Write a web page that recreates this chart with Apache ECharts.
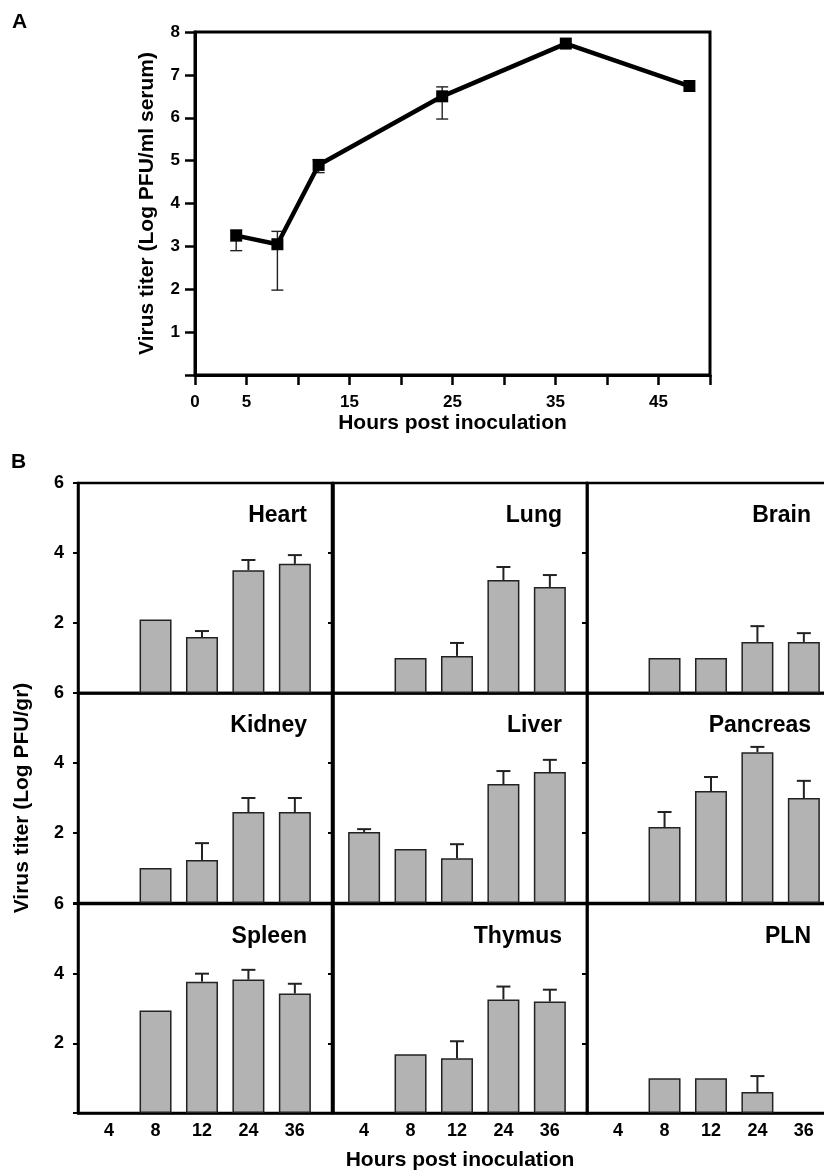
<!DOCTYPE html>
<html>
<head>
<meta charset="utf-8">
<script src="https://cdn.jsdelivr.net/npm/echarts@6/dist/echarts.min.js"></script>
<style>
  html, body { margin: 0; padding: 0; background: #fff; }
  #chart { width: 824px; height: 1170px; }
</style>
</head>
<body>
<div id="chart"></div>
<script>
// panel A: serum titer
const hoursA = [4, 8, 12, 24, 36, 48];
const titerA = [3.25, 3.05, 4.9, 6.5, 7.73, 6.74];
const lowA = [2.9, 1.98, 4.72, 5.97, null, null];
const highA = [3.38, 3.35, 5.02, 6.72, null, null];
const xLabelsA = [0, 5, 15, 25, 35, 45];

// panel B: organ titers (mean and upper error)
const hoursB = ['4', '8', '12', '24', '36'];
const organs = ['Heart', 'Lung', 'Brain', 'Kidney', 'Liver', 'Pancreas', 'Spleen', 'Thymus', 'PLN'];
const heart = [null, 2.1, 1.6, 3.51, 3.69];
const heartErr = [null, null, 1.77, 3.8, 3.94];
const lung = [null, 1.0, 1.06, 3.23, 3.03];
const lungErr = [null, null, 1.43, 3.6, 3.37];
const brain = [null, 1.0, 1.0, 1.46, 1.46];
const brainErr = [null, null, null, 1.91, 1.71];
const kidney = [null, 1.0, 1.23, 2.6, 2.6];
const kidneyErr = [null, null, 1.71, 3.0, 3.0];
const liver = [2.03, 1.54, 1.28, 3.4, 3.74];
const liverErr = [2.11, null, 1.68, 3.77, 4.09];
const pancreas = [null, 2.17, 3.2, 4.31, 3.0];
const pancreasErr = [null, 2.6, 3.6, 4.46, 3.49];
const spleen = [null, 2.94, 3.77, 3.83, 3.43];
const spleenErr = [null, null, 4.0, 4.11, 3.71];
const thymus = [null, 1.69, 1.57, 3.26, 3.2];
const thymusErr = [null, null, 2.06, 3.63, 3.54];
const pln = [null, 1.0, 1.0, 0.6, null];
const plnErr = [null, null, null, 1.06, null];

const organMeans = [heart, lung, brain, kidney, liver, pancreas, spleen, thymus, pln];
const organErrs = [heartErr, lungErr, brainErr, kidneyErr, liverErr, pancreasErr, spleenErr, thymusErr, plnErr];

const font = 'Liberation Sans, Arial, sans-serif';
const colLeft = [78, 333, 587];
const rowTop = [483, 693, 904];
const cellW = 254, cellH = 210;

const chart = echarts.init(document.getElementById('chart'));

const grids = [{ left: 195, top: 32, width: 515, height: 343, outerBoundsMode: 'none',
  show: true, borderColor: '#000', borderWidth: 3 }];
const xAxes = [{
  gridIndex: 0, type: 'value', min: 0, max: 50, interval: 5,
  name: 'Hours post inoculation', nameLocation: 'middle', nameGap: 38,
  nameTextStyle: { fontFamily: font, fontWeight: 'bold', fontSize: 21, color: '#000' },
  axisLine: { lineStyle: { color: '#000', width: 3 } },
  axisTick: { inside: false, length: 10, lineStyle: { color: '#000', width: 2.5 } },
  axisLabel: { margin: 19, fontFamily: font, fontWeight: 'bold', fontSize: 17, color: '#000',
    formatter: v => xLabelsA.includes(v) ? String(v) : '' },
  splitLine: { show: false }
}];
const yAxes = [{
  gridIndex: 0, type: 'value', min: 0, max: 8, interval: 1,
  name: 'Virus titer (Log PFU/ml serum)', nameLocation: 'middle', nameGap: 37,
  nameTextStyle: { fontFamily: font, fontWeight: 'bold', fontSize: 21, color: '#000' },
  axisLine: { lineStyle: { color: '#000', width: 3 } },
  axisTick: { length: 10, lineStyle: { color: '#000', width: 2.5 } },
  axisLabel: { margin: 15, fontFamily: font, fontWeight: 'bold', fontSize: 17, color: '#000',
    formatter: v => v === 0 ? '' : String(v) },
  splitLine: { show: false }
}];

const series = [
  {
    type: 'custom', xAxisIndex: 0, yAxisIndex: 0, z: 2,
    data: hoursA.map((h, i) => [h, lowA[i], highA[i]]).filter(d => d[1] != null),
    encode: { x: 0, y: [1, 2] },
    renderItem: (params, api) => {
      const lo = api.coord([api.value(0), api.value(1)]);
      const hi = api.coord([api.value(0), api.value(2)]);
      const st = { stroke: '#222', lineWidth: 1.4 };
      return { type: 'group', children: [
        { type: 'line', shape: { x1: lo[0], y1: lo[1], x2: hi[0], y2: hi[1] }, style: st },
        { type: 'line', shape: { x1: lo[0] - 6, y1: lo[1], x2: lo[0] + 6, y2: lo[1] }, style: st },
        { type: 'line', shape: { x1: hi[0] - 6, y1: hi[1], x2: hi[0] + 6, y2: hi[1] }, style: st }
      ] };
    }
  },
  {
    type: 'line', xAxisIndex: 0, yAxisIndex: 0, z: 3,
    data: hoursA.map((h, i) => [h, titerA[i]]),
    symbol: 'rect', symbolSize: 12,
    lineStyle: { color: '#000', width: 4.5 },
    itemStyle: { color: '#000' }
  }
];

const titles = [];

organs.forEach((name, k) => {
  const r = Math.floor(k / 3), c = k % 3;
  const g = k + 1;
  grids.push({ left: colLeft[c], top: rowTop[r], width: cellW, height: r === 2 ? cellH - 1 : cellH,
    outerBoundsMode: 'none', show: true, borderColor: '#000', borderWidth: 2.5 });
  xAxes.push({
    gridIndex: g, type: 'value', min: 0.33, max: 5.8,
    name: (r === 2 && c === 1) ? 'Hours post inoculation' : '',
    nameLocation: 'middle', nameGap: 37,
    nameTextStyle: { fontFamily: font, fontWeight: 'bold', fontSize: 21, color: '#000' },
    axisLine: { lineStyle: { color: '#000', width: 2.5 } },
    axisTick: { show: false },
    axisLabel: { show: r === 2, customValues: [1, 2, 3, 4, 5], margin: 9,
      fontFamily: font, fontWeight: 'bold', fontSize: 18, color: '#000',
      formatter: v => Number.isInteger(v) && v >= 1 && v <= 5 ? hoursB[v - 1] : '' },
    splitLine: { show: false }
  });
  yAxes.push({
    gridIndex: g, type: 'value', min: 0, max: 6, interval: 2,
    name: (r === 1 && c === 0) ? 'Virus titer (Log PFU/gr)' : '',
    nameLocation: 'middle', nameGap: 45,
    nameTextStyle: { fontFamily: font, fontWeight: 'bold', fontSize: 21, color: '#000' },
    axisLine: { lineStyle: { color: '#000', width: 2.5 } },
    axisTick: { length: 5, lineStyle: { color: '#000', width: 2 } },
    axisLabel: { show: c === 0, margin: 14, fontFamily: font, fontWeight: 'bold', fontSize: 18, color: '#000',
      formatter: v => v === 0 ? '' : String(v) },
    splitLine: { show: false }
  });
  const means = organMeans[k], errs = organErrs[k];
  series.push({
    type: 'bar', xAxisIndex: g, yAxisIndex: g, barWidth: 32, z: 2,
    data: means.map((v, i) => [i + 1, v]).filter(d => d[1] != null),
    itemStyle: { color: '#b3b3b3', borderColor: '#222', borderWidth: 1.5 }
  });
  series.push({
    type: 'custom', xAxisIndex: g, yAxisIndex: g, z: 3,
    data: means.map((v, i) => [i + 1, v, errs[i]]).filter(d => d[2] != null),
    encode: { x: 0, y: [1, 2] },
    renderItem: (params, api) => {
      const lo = api.coord([api.value(0), api.value(1)]);
      const hi = api.coord([api.value(0), api.value(2)]);
      const st = { stroke: '#222', lineWidth: 2 };
      return { type: 'group', children: [
        { type: 'line', shape: { x1: lo[0], y1: lo[1], x2: hi[0], y2: hi[1] }, style: st },
        { type: 'line', shape: { x1: hi[0] - 7, y1: hi[1], x2: hi[0] + 7, y2: hi[1] }, style: st }
      ] };
    }
  });
  titles.push({
    text: name,
    right: 824 - Math.min(colLeft[c] + cellW - 20, 816),
    top: rowTop[r] + 16,
    textStyle: { fontFamily: font, fontWeight: 'bold', fontSize: 23, color: '#000' }
  });
});

const option = {
  animation: false,
  backgroundColor: '#fff',
  title: titles,
  grid: grids,
  xAxis: xAxes,
  yAxis: yAxes,
  series: series,
  graphic: [
    { type: 'text', left: 12, top: 12, style: { text: 'A', font: 'bold 21px ' + font, fill: '#000' } },
    { type: 'text', left: 11, top: 452, style: { text: 'B', font: 'bold 21px ' + font, fill: '#000' } }
  ]
};
chart.setOption(option);
</script>
</body>
</html>
